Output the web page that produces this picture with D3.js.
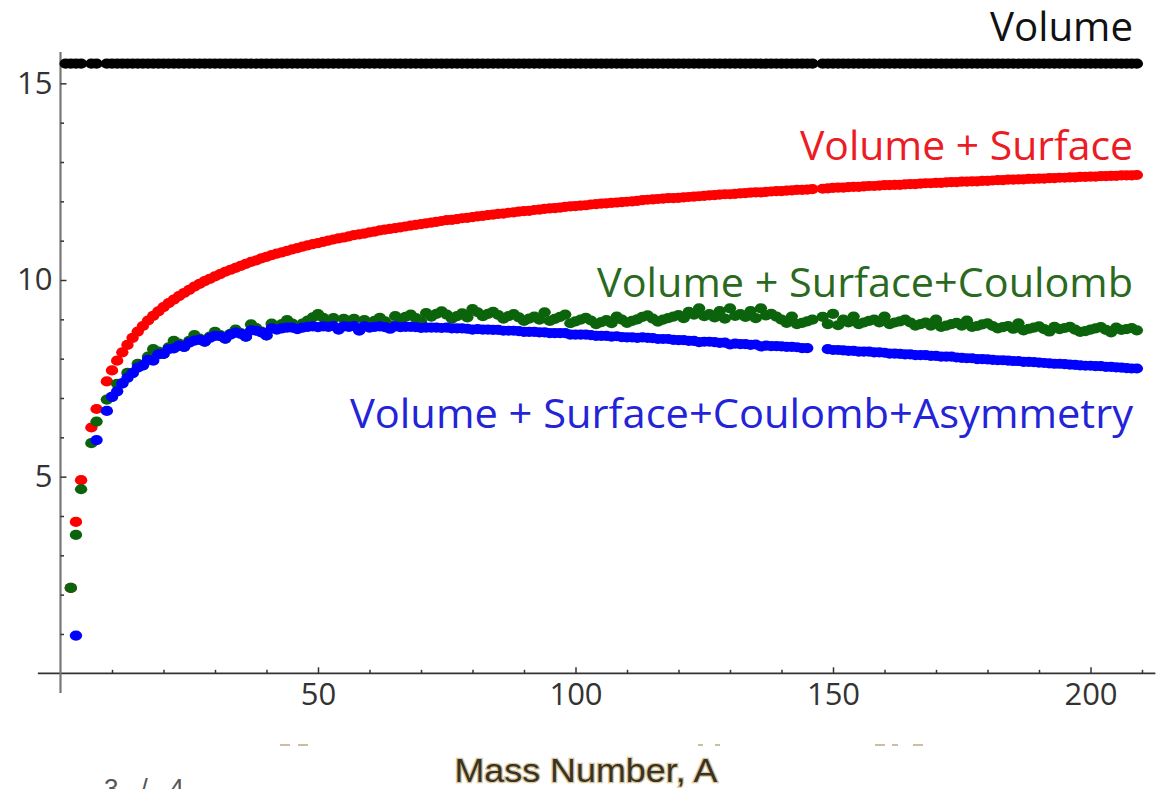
<!DOCTYPE html>
<html>
<head>
<meta charset="utf-8">
<script src="https://cdn.jsdelivr.net/npm/d3@7"></script>
<style>
  html, body { margin: 0; padding: 0; background: #fff; }
  svg { display: block; }
</style>
</head>
<body>
<svg id="chart" width="1162" height="789"></svg>
<script>
// ---------------- data ----------------
const massNumbers = [1,2,3,4,6,7,9,10,11,12,13,14,15,16,17,18,19,20,21,22,23,24,25,26,27,28,29,30,
31,32,33,34,35,36,37,38,39,40,41,42,43,44,45,46,47,48,49,50,51,52,53,54,55,56,57,58,59,60,
61,62,63,64,65,66,67,68,69,70,71,72,73,74,75,76,77,78,79,80,81,82,83,84,85,86,87,88,89,90,
91,92,93,94,95,96,97,98,99,100,101,102,103,104,105,106,107,108,109,110,111,112,113,114,115,116,117,118,119,120,
121,122,123,124,125,126,127,128,129,130,131,132,133,134,135,136,137,138,139,140,141,142,143,144,145,146,148,149,150,
151,152,153,154,155,156,157,158,159,160,161,162,163,164,165,166,167,168,169,170,171,172,173,174,175,176,177,178,179,180,
181,182,183,184,185,186,187,188,189,190,191,192,193,194,195,196,197,198,199,200,201,202,203,204,205,206,207,208,209];

const volume = [15.5,15.5,15.5,15.5,15.5,15.5,15.5,15.5,15.5,15.5,15.5,15.5,15.5,15.5,15.5,15.5,15.5,15.5,15.5,15.5,15.5,15.5,15.5,15.5,15.5,15.5,15.5,15.5,
15.5,15.5,15.5,15.5,15.5,15.5,15.5,15.5,15.5,15.5,15.5,15.5,15.5,15.5,15.5,15.5,15.5,15.5,15.5,15.5,15.5,15.5,15.5,15.5,15.5,15.5,15.5,15.5,15.5,15.5,
15.5,15.5,15.5,15.5,15.5,15.5,15.5,15.5,15.5,15.5,15.5,15.5,15.5,15.5,15.5,15.5,15.5,15.5,15.5,15.5,15.5,15.5,15.5,15.5,15.5,15.5,15.5,15.5,15.5,15.5,
15.5,15.5,15.5,15.5,15.5,15.5,15.5,15.5,15.5,15.5,15.5,15.5,15.5,15.5,15.5,15.5,15.5,15.5,15.5,15.5,15.5,15.5,15.5,15.5,15.5,15.5,15.5,15.5,15.5,15.5,
15.5,15.5,15.5,15.5,15.5,15.5,15.5,15.5,15.5,15.5,15.5,15.5,15.5,15.5,15.5,15.5,15.5,15.5,15.5,15.5,15.5,15.5,15.5,15.5,15.5,15.5,15.5,15.5,15.5,
15.5,15.5,15.5,15.5,15.5,15.5,15.5,15.5,15.5,15.5,15.5,15.5,15.5,15.5,15.5,15.5,15.5,15.5,15.5,15.5,15.5,15.5,15.5,15.5,15.5,15.5,15.5,15.5,15.5,15.5,
15.5,15.5,15.5,15.5,15.5,15.5,15.5,15.5,15.5,15.5,15.5,15.5,15.5,15.5,15.5,15.5,15.5,15.5,15.5,15.5,15.5,15.5,15.5,15.5,15.5,15.5,15.5,15.5,15.5];

const volSurf = [null,2.17,3.85,4.91,6.25,6.72,7.42,7.70,7.95,8.16,8.35,8.53,8.69,8.83,8.97,9.09,9.20,9.31,9.41,9.50,9.59,9.67,9.75,9.83,9.90,9.97,10.03,10.09,
10.15,10.21,10.26,10.31,10.36,10.41,10.46,10.50,10.55,10.59,10.63,10.67,10.70,10.74,10.78,10.81,10.85,10.88,10.91,10.94,10.97,11.00,11.03,11.06,11.08,11.11,11.14,11.16,11.18,11.21,
11.23,11.26,11.28,11.30,11.32,11.34,11.36,11.38,11.40,11.42,11.44,11.46,11.48,11.50,11.52,11.53,11.55,11.57,11.58,11.60,11.62,11.63,11.65,11.66,11.68,11.69,11.71,11.72,11.74,11.75,
11.76,11.78,11.79,11.81,11.82,11.83,11.84,11.86,11.87,11.88,11.89,11.90,11.92,11.93,11.94,11.95,11.96,11.97,11.98,11.99,12.00,12.01,12.03,12.04,12.05,12.06,12.07,12.08,12.08,12.09,
12.10,12.11,12.12,12.13,12.14,12.15,12.16,12.17,12.18,12.18,12.19,12.20,12.21,12.22,12.23,12.23,12.24,12.25,12.26,12.26,12.27,12.28,12.29,12.29,12.30,12.31,12.32,12.33,12.34,
12.35,12.35,12.36,12.37,12.37,12.38,12.39,12.39,12.40,12.41,12.41,12.42,12.42,12.43,12.44,12.44,12.45,12.46,12.46,12.47,12.47,12.48,12.49,12.49,12.50,12.50,12.51,12.51,12.52,12.52,
12.53,12.54,12.54,12.55,12.55,12.56,12.56,12.57,12.57,12.58,12.58,12.59,12.59,12.60,12.60,12.61,12.61,12.62,12.62,12.63,12.63,12.64,12.64,12.65,12.65,12.66,12.66,12.66,12.67];

const volSurfCoul = [null,2.17,3.52,4.68,5.85,6.40,6.96,7.03,7.36,7.37,7.64,7.63,7.87,7.83,8.05,8.24,8.18,8.12,8.29,8.45,8.38,8.30,8.45,8.60,8.51,8.43,8.56,8.68,
8.60,8.51,8.63,8.74,8.65,8.56,8.87,8.78,8.69,8.59,8.89,8.80,8.88,8.98,8.89,8.79,8.89,8.97,9.05,9.13,9.04,8.95,9.03,8.77,9.01,8.93,9.01,8.74,8.98,8.89,
8.96,9.04,8.95,8.85,9.08,8.99,9.06,9.12,9.03,8.94,9.16,9.07,9.14,9.20,9.12,9.02,9.08,9.15,9.05,9.26,9.18,9.08,9.14,9.19,9.11,9.02,9.08,9.13,9.05,8.96,
9.02,9.07,8.99,9.18,8.96,9.01,9.06,9.12,8.90,8.95,8.99,9.04,8.97,8.88,8.93,8.98,8.90,9.07,8.99,8.91,8.96,9.00,9.06,9.10,9.02,8.94,8.99,9.03,9.07,9.11,
9.03,9.19,9.12,9.28,9.08,9.13,9.05,9.21,9.02,9.28,9.09,9.13,9.06,9.21,9.03,9.28,9.10,9.14,9.07,8.99,8.91,9.07,8.88,8.91,8.95,8.99,9.06,8.88,9.14,
8.85,8.99,8.92,9.07,8.88,8.92,8.96,8.99,8.92,9.07,8.88,8.92,8.95,8.99,8.92,8.84,8.88,8.92,8.84,8.99,8.81,8.84,8.88,8.91,8.84,8.97,8.81,8.83,8.87,8.90,
8.83,8.77,8.80,8.83,8.76,8.90,8.72,8.76,8.79,8.82,8.75,8.69,8.81,8.75,8.78,8.81,8.74,8.68,8.70,8.74,8.77,8.80,8.73,8.67,8.79,8.73,8.75,8.78,8.72];

const volSurfCoulAsym = [null,null,0.96,null,null,5.93,6.67,7.03,7.17,7.37,7.51,7.63,7.77,7.83,7.97,7.95,8.11,8.12,8.24,8.26,8.33,8.30,8.41,8.46,8.48,8.43,8.53,8.58,
8.57,8.51,8.61,8.66,8.63,8.56,8.72,8.71,8.67,8.59,8.77,8.74,8.77,8.79,8.79,8.75,8.79,8.81,8.82,8.80,8.82,8.81,8.83,8.74,8.82,8.81,8.83,8.71,8.82,8.79,
8.81,8.82,8.80,8.76,8.82,8.80,8.81,8.81,8.80,8.78,8.79,8.79,8.79,8.78,8.79,8.77,8.77,8.77,8.76,8.74,8.75,8.74,8.74,8.73,8.73,8.71,8.71,8.71,8.70,8.68,
8.68,8.68,8.67,8.67,8.65,8.65,8.65,8.65,8.61,8.61,8.61,8.61,8.60,8.58,8.58,8.58,8.56,8.57,8.55,8.54,8.54,8.53,8.54,8.53,8.52,8.50,8.50,8.50,8.48,8.47,
8.47,8.45,8.45,8.42,8.43,8.43,8.42,8.40,8.41,8.36,8.38,8.37,8.37,8.35,8.36,8.31,8.33,8.32,8.32,8.31,8.30,8.30,8.29,8.27,8.27,null,null,8.24,8.22,
8.22,8.21,8.20,8.20,8.18,8.18,8.18,8.16,8.16,8.15,8.13,8.13,8.12,8.11,8.11,8.09,8.09,8.09,8.07,8.07,8.05,8.05,8.05,8.03,8.02,8.01,8.01,7.99,7.99,7.98,
7.97,7.96,7.96,7.95,7.94,7.94,7.92,7.92,7.91,7.90,7.89,7.88,7.87,7.87,7.86,7.85,7.84,7.83,7.82,7.82,7.81,7.81,7.79,7.79,7.78,7.77,7.76,7.75,7.75];

const xMajorTicks = [50, 100, 150, 200];
const xMinorTicks = [10,20,30,40,60,70,80,90,110,120,130,140,160,170,180,190,210];
const yMajorTicks = [5, 10, 15];
const yMinorTicks = [1,2,3,4,6,7,8,9,11,12,13,14];

const seriesNames = ["Volume", "Volume + Surface", "Volume + Surface+Coulomb", "Volume + Surface+Coulomb+Asymmetry"];
const axisTitle = "Mass Number, A";
const cutFragment = "3/4";

// ---------------- drawing ----------------
const svg = d3.select("#chart");
const x = d3.scaleLinear().domain([0, 200]).range([60.5, 1090.5]);
const y = d3.scaleLinear().domain([0, 15]).range([673.3, 83.35]);

// axis lines
svg.append("line")
  .attr("x1", x(-4.4)).attr("x2", x(212.6))
  .attr("y1", y(0)).attr("y2", y(0))
  .attr("stroke", "#333").attr("stroke-width", 1.8);
svg.append("line")
  .attr("x1", x(0)).attr("x2", x(0))
  .attr("y1", y(-0.5)).attr("y2", y(15.8))
  .attr("stroke", "#777").attr("stroke-width", 2.2);

const tickFont = "'Open Sans', 'DejaVu Sans', sans-serif";

const gx = svg.append("g").attr("transform", `translate(0,${y(0)})`)
  .call(d3.axisBottom(x).tickValues(xMajorTicks).tickSizeInner(-6).tickSizeOuter(0).tickPadding(10));
const gxm = svg.append("g").attr("transform", `translate(0,${y(0)})`)
  .call(d3.axisBottom(x).tickValues(xMinorTicks).tickSizeInner(-3.5).tickSizeOuter(0).tickFormat(""));
const gy = svg.append("g").attr("transform", `translate(${x(0)},0)`)
  .call(d3.axisLeft(y).tickValues(yMajorTicks).tickSizeInner(-6).tickSizeOuter(0).tickPadding(8));
const gym = svg.append("g").attr("transform", `translate(${x(0)},0)`)
  .call(d3.axisLeft(y).tickValues(yMinorTicks).tickSizeInner(-3.5).tickSizeOuter(0).tickFormat(""));

[gx, gxm, gy, gym].forEach(g => {
  g.select(".domain").remove();
  g.selectAll(".tick line").attr("stroke", "#333").attr("stroke-width", 1.5);
  g.selectAll(".tick text").attr("font-family", tickFont).attr("font-size", 31).attr("fill", "#333");
});

// points
const colors = ["#000000", "#ff0000", "#0b640b", "#0000ff"];
const seriesData = [volume, volSurf, volSurfCoul, volSurfCoulAsym];
[0, 1, 2, 3].forEach(si => {
  const pts = massNumbers.map((a, i) => ({a, v: seriesData[si][i]})).filter(d => d.v !== null);
  svg.append("g").selectAll("ellipse").data(pts).join("ellipse")
    .attr("cx", d => x(d.a)).attr("cy", d => y(d.v))
    .attr("rx", 6.2).attr("ry", 5.1)
    .attr("fill", colors[si]);
});

// series labels
const labelFont = "'Open Sans', 'DejaVu Sans', sans-serif";
const labels = [
  {text: seriesNames[0], baseline: 41, color: "#111111", width: 143},
  {text: seriesNames[1], baseline: 160, color: "#ec1c24", width: 333},
  {text: seriesNames[2], baseline: 297, color: "#2a6a1e", width: 536},
  {text: seriesNames[3], baseline: 428, color: "#2323d8", width: 783}
];
labels.forEach(l => {
  svg.append("text")
    .attr("x", 1133 - l.width).attr("y", l.baseline)
    .attr("font-family", labelFont).attr("font-size", 40)
    .attr("fill", l.color)
    .attr("textLength", l.width).attr("lengthAdjust", "spacingAndGlyphs")
    .text(l.text);
});

// faint remnants of clipped text below the axis
const dashes = [[280, 290], [298, 308], [698, 703], [715, 720], [875, 885], [892, 898], [913, 923]];
svg.append("g").selectAll("line").data(dashes).join("line")
  .attr("x1", d => d[0]).attr("x2", d => d[1])
  .attr("y1", 745).attr("y2", 745)
  .attr("stroke", "#cbbf9f").attr("stroke-width", 2);
svg.append("text")
  .attr("x", 104).attr("y", 797)
  .attr("font-family", "'Liberation Sans', Arial, sans-serif")
  .attr("font-size", 26).attr("fill", "#555")
  .attr("textLength", 80).attr("lengthAdjust", "spacing")
  .text(cutFragment);

// axis title
svg.append("text")
  .attr("x", 586).attr("y", 782)
  .attr("text-anchor", "middle")
  .attr("font-family", "'Liberation Sans', Arial, sans-serif")
  .attr("font-size", 33)
  .attr("fill", "#3a3222")
  .attr("stroke", "#d9c9a3").attr("stroke-width", 2.5).attr("paint-order", "stroke")
  .attr("textLength", 263).attr("lengthAdjust", "spacingAndGlyphs")
  .text(axisTitle);
</script>
</body>
</html>
